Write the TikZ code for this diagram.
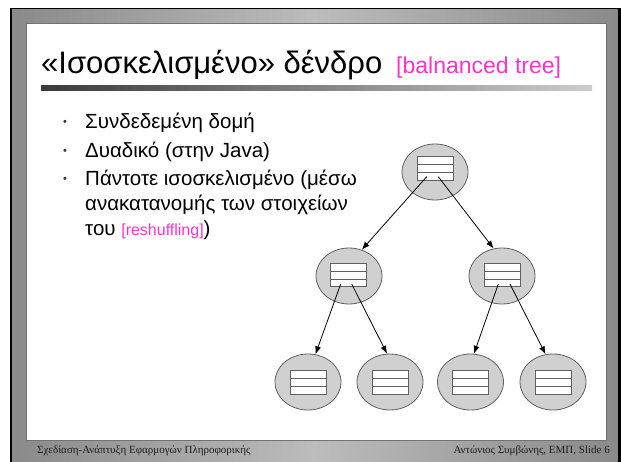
\documentclass[tikz,border=0pt]{standalone}
\usepackage{fontspec}
\setmainfont{Liberation Sans}
\newfontfamily\footfont{Liberation Serif}
\usetikzlibrary{shapes.geometric,arrows.meta,calc}

\definecolor{accent}{RGB}{255,51,204}
\definecolor{nodegray}{RGB}{208,208,208}
\definecolor{edgegray}{RGB}{96,96,96}
\definecolor{bandmid}{RGB}{188,188,188}
\definecolor{bandside}{RGB}{138,138,138}
\definecolor{barleft}{RGB}{58,58,58}
\definecolor{barright}{RGB}{205,205,205}
\definecolor{foottext}{RGB}{30,30,30}

\tikzset{
  treenode/.style={ellipse, draw=edgegray, fill=nodegray, line width=0.8pt,
    minimum width=66pt, minimum height=56pt, inner sep=0pt},
  recbox/.style={rectangle, draw=edgegray, fill=white, line width=0.8pt,
    minimum width=36pt, minimum height=23.5pt, inner sep=0pt,
    path picture={
      \draw[edgegray, line width=0.8pt]
        ($(path picture bounding box.north west)!1/3!(path picture bounding box.south west)$) --
        ($(path picture bounding box.north east)!1/3!(path picture bounding box.south east)$)
        ($(path picture bounding box.north west)!2/3!(path picture bounding box.south west)$) --
        ($(path picture bounding box.north east)!2/3!(path picture bounding box.south east)$);}},
  link/.style={-{Latex[length=8pt,width=6pt]}, line width=0.8pt, black},
  itemtext/.style={anchor=base west, inner sep=0pt, font=\fontsize{20.5}{24}\selectfont},
  bulletmark/.style={inner sep=0pt, text=black!80, font=\fontsize{11}{13}\selectfont},
  foot/.style={inner sep=0pt, text=foottext, font=\footfont\fontsize{11}{13}\selectfont},
}

\begin{document}
\begin{tikzpicture}[x=1pt, y=-1pt]
  % page and slide frame
  \useasboundingbox (0,0) rectangle (621,461);
  \fill[white] (0,0) rectangle (621,461);
  \fill[black] (9.5,7.5) rectangle (621,470);
  \shade[left color=bandside, right color=bandside, middle color=bandmid]
    (12,9.5) rectangle (617.7,470);
  \filldraw[fill=white, draw=black!55, line width=0.8pt] (26,23) rectangle (606,440);

  % title and underline bar
  \node[anchor=base west, inner sep=0pt, font=\fontsize{31}{36}\selectfont] (title) at (41,73)
    {«Ισοσκελισμένο» δένδρο};
  \node[anchor=base west, inner sep=0pt, text=accent, font=\fontsize{23}{27}\selectfont] (tag) at (396,73)
    {[balnanced tree]};
  \shade[left color=barleft, right color=barright] (41,85) rectangle (592,90.5);

  % bullet list
  \node[bulletmark] (b1) at (65,123) {•};
  \node[bulletmark] (b2) at (65,152) {•};
  \node[bulletmark] (b3) at (65,180) {•};
  \node[itemtext] (t1) at (85,128.5) {Συνδεδεμένη δομή};
  \node[itemtext] (t2) at (85,157.5) {Δυαδικό (στην Java)};
  \node[itemtext] (t3) at (85,185.5) {Πάντοτε ισοσκελισμένο (μέσω};
  \node[itemtext] (t4) at (85,210.5) {ανακατανομής των στοιχείων};
  \node[itemtext] (t5) at (85,235.5)
    {του {\color{accent}\fontsize{16}{19}\selectfont [reshuffling]})};

  % tree nodes
  \node[treenode] (root) at (435,172) {};
  \node[recbox]   (rootbox) at (435.5,168.5) {};
  \node[treenode] (lft) at (349,276) {};
  \node[recbox]   (lftbox) at (348.7,275) {};
  \node[treenode] (rgt) at (502,276) {};
  \node[recbox]   (rgtbox) at (502,275) {};
  \node[treenode] (leafa) at (308,382) {};
  \node[recbox]   (leafabox) at (308,382.3) {};
  \node[treenode] (leafb) at (390,382) {};
  \node[recbox]   (leafbbox) at (390,382.3) {};
  \node[treenode] (leafc) at (470.5,382) {};
  \node[recbox]   (leafcbox) at (470.5,382.3) {};
  \node[treenode] (leafd) at (553,382) {};
  \node[recbox]   (leafdbox) at (553,382.3) {};

  % pointer origins inside the last row of each record
  \coordinate (rootp1) at ($(rootbox)+(-8.8,8.2)$);
  \coordinate (rootp2) at ($(rootbox)+(2.8,8.2)$);
  \coordinate (lftp1) at ($(lftbox)+(-8,9)$);
  \coordinate (lftp2) at ($(lftbox)+(3,9)$);
  \coordinate (rgtp1) at ($(rgtbox)+(-3.7,9)$);
  \coordinate (rgtp2) at ($(rgtbox)+(8,9)$);

  % child pointers
  \draw[link] (rootp1) -- (lft.64);
  \draw[link] (rootp2) -- (rgt.107);
  \draw[link] (lftp1) -- (leafa.75);
  \draw[link] (lftp2) -- (leafb.96);
  \draw[link] (rgtp1) -- (leafc.83);
  \draw[link] (rgtp2) -- (leafd.105);

  % footer
  \node[foot, anchor=base west] (footl) at (37,453)
    {Σχεδίαση-Ανάπτυξη Εφαρμογών Πληροφορικής};
  \node[foot, anchor=base east] (footr) at (610,453)
    {Αντώνιος Συμβώνης, ΕΜΠ, Slide 6};
\end{tikzpicture}
\end{document}
